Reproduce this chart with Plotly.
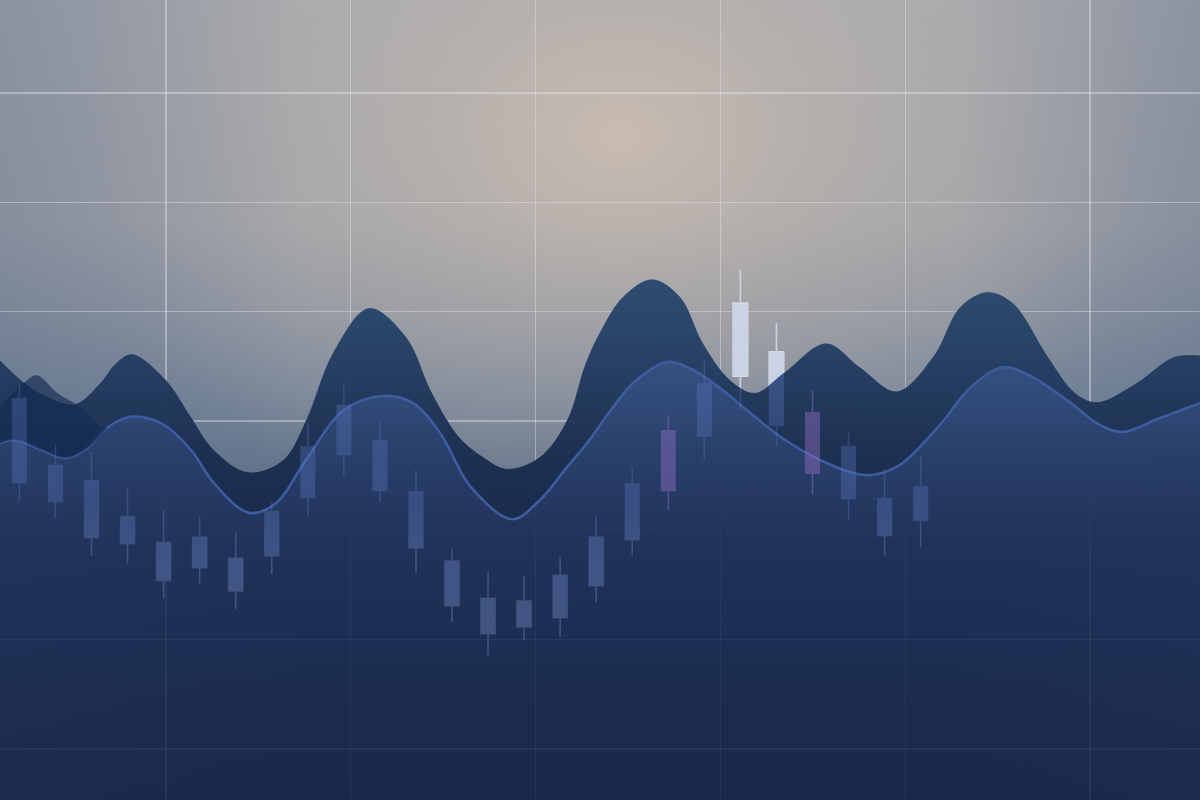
import base64
import plotly.graph_objects as go

# ---------------- data ----------------
# candlesticks (one per trading day)
day = list(range(26))
open_ = [50.25, 41.9, 40.0, 32.0, 32.25, 29.0, 30.25, 30.5, 37.75, 43.1, 45.0, 38.6, 29.9,
         25.25, 21.6, 22.75, 26.75, 32.5, 38.6, 45.4, 53.0, 56.0, 48.5, 44.25, 37.75, 34.9]
close = [39.6, 37.25, 32.75, 35.5, 27.4, 32.9, 26.1, 36.1, 44.25, 49.4, 38.6, 31.5, 24.25,
         20.75, 24.9, 28.1, 32.9, 39.6, 46.25, 52.1, 62.1, 46.75, 40.75, 37.6, 33.0, 39.25]
high = [51.9, 44.4, 43.5, 39.0, 36.25, 35.4, 33.4, 37.25, 47.25, 52.1, 47.25, 41.25, 31.4,
        28.5, 28.0, 30.4, 35.5, 41.6, 48.1, 55.0, 66.25, 59.6, 51.25, 45.9, 41.4, 43.0]
low = [37.25, 35.25, 30.5, 29.6, 25.25, 27.1, 23.9, 28.25, 35.6, 40.5, 37.25, 28.4, 22.25,
       18.1, 20.0, 20.4, 24.75, 30.6, 36.25, 42.4, 48.9, 44.25, 38.25, 35.1, 30.5, 31.6]
accent_days = [18, 22]

# upper (dark) wave
w1_x = [-0.538, 0.155, 0.849, 1.542, 2.236, 2.652, 3.123, 4.067, 4.760, 5.398, 6.341, 7.312,
        7.950, 8.699, 9.698, 10.724, 11.445, 12.194, 12.860, 13.526, 14.441, 15.190, 15.689,
        16.106, 16.744, 17.548, 18.325, 18.963, 19.712, 20.405, 21.210, 22.375, 23.318,
        24.344, 25.343, 26.092, 26.841, 27.562, 28.533, 29.282, 29.892, 30.974, 32.028, 32.749]
w1_y = [55.0, 52.1, 50.25, 49.5, 52.1, 54.5, 55.75, 52.5, 47.9, 43.75, 41.0, 42.5,
        47.5, 55.9, 61.5, 57.9, 50.9, 45.4, 42.9, 41.4, 42.9, 47.5, 54.4,
        58.5, 62.9, 65.1, 62.9, 57.1, 52.5, 50.9, 53.4, 57.1, 54.1,
        51.1, 55.4, 61.6, 63.5, 62.1, 55.4, 50.9, 49.75, 52.1, 55.4, 55.6]

# lower (blue line) wave
w2_x = [-0.538, -0.122, 0.627, 1.265, 1.820, 2.430, 3.068, 3.928, 4.760, 5.398, 6.369, 7.118,
        7.950, 9.004, 10.086, 10.918, 11.667, 12.527, 13.664, 14.441, 15.190, 15.745, 16.467,
        17.021, 17.964, 18.685, 19.434, 20.266, 21.237, 22.208, 23.040, 23.595, 24.427,
        25.537, 26.369, 27.284, 28.089, 29.171, 29.892, 30.585, 31.640, 32.749]
w2_y = [44.6, 45.0, 43.75, 42.75, 43.75, 46.5, 47.9, 47.1, 43.75, 39.6, 35.9, 37.1,
        42.5, 48.75, 50.5, 49.6, 45.9, 39.1, 35.1, 37.5, 41.6, 44.6, 49.1,
        52.1, 54.75, 53.75, 51.5, 48.4, 45.0, 42.5, 41.0, 40.6, 41.9,
        46.9, 51.5, 54.1, 52.9, 49.6, 47.1, 46.0, 47.75, 49.6]

# small back wave on the far left
w0_x = [-0.538, 0.155, 0.488, 1.043, 1.681, 2.236]
w0_y = [49.1, 52.25, 53.1, 50.9, 49.1, 46.6]
W0_JOIN = 6  # number of lower-wave points that close the back wave

# axis extents
x_range = [-0.538, 32.749]
y_range = [0, 100]
grid_x0, grid_dx = 4.067, 5.126
grid_y0, grid_dy = 6.375, 13.667

# ---------------- background ----------------
svg = """<svg xmlns='http://www.w3.org/2000/svg' width='1200' height='800' viewBox='0 0 1200 800' preserveAspectRatio='none'>
<defs>
<linearGradient id='v' x1='0' y1='0' x2='0' y2='1'>
<stop offset='0' stop-color='#a7a9ae'/>
<stop offset='0.28' stop-color='#a0a3a9'/>
<stop offset='0.40' stop-color='#8c94a1'/>
<stop offset='0.5' stop-color='#778598'/>
<stop offset='0.59' stop-color='#64748b'/>
<stop offset='0.66' stop-color='#2e3f62'/>
<stop offset='0.75' stop-color='#1c2d54'/>
<stop offset='1' stop-color='#152447'/>
</linearGradient>
<radialGradient id='g' cx='620' cy='135' r='560' gradientUnits='userSpaceOnUse'
 gradientTransform='translate(620 135) scale(1 0.72) translate(-620 -135)'>
<stop offset='0' stop-color='#cbbdb1' stop-opacity='0.95'/>
<stop offset='0.45' stop-color='#bfb5ad' stop-opacity='0.45'/>
<stop offset='1' stop-color='#b0aaa8' stop-opacity='0'/>
</radialGradient>
<linearGradient id='h' x1='0' y1='0' x2='1' y2='0'>
<stop offset='0' stop-color='#4a5f80' stop-opacity='0.30'/>
<stop offset='0.25' stop-color='#4a5f80' stop-opacity='0'/>
<stop offset='0.8' stop-color='#4a5f80' stop-opacity='0'/>
<stop offset='1' stop-color='#4a5f80' stop-opacity='0.28'/>
</linearGradient>
</defs>
<rect width='1200' height='800' fill='url(#v)'/>
<rect width='1200' height='800' fill='url(#g)'/>
<rect width='1200' height='800' fill='url(#h)'/>
</svg>"""
bg_uri = "data:image/svg+xml;base64," + base64.b64encode(svg.encode()).decode()


def segments(idx, a, b):
    xs, ys = [], []
    for i in idx:
        xs += [day[i], day[i], None]
        ys += [a[i], b[i], None]
    return xs, ys


def add_candle_overlay(fig, idx, color):
    body_lo = [min(o, c) for o, c in zip(open_, close)]
    body_hi = [max(o, c) for o, c in zip(open_, close)]
    bx, by = segments(idx, body_lo, body_hi)
    fig.add_trace(go.Scatter(x=bx, y=by, mode="lines", line=dict(color=color, width=15),
                             hoverinfo="skip", showlegend=False))
    lx, ly = segments(idx, low, body_lo)
    hx, hy = segments(idx, body_hi, high)
    fig.add_trace(go.Scatter(x=lx + hx, y=ly + hy, mode="lines",
                             line=dict(color=color, width=1.5),
                             hoverinfo="skip", showlegend=False))


# ---------------- figure ----------------
fig = go.Figure()

LIGHT = "rgb(242,240,238)"
fig.add_trace(go.Candlestick(
    x=day, open=open_, high=high, low=low, close=close,
    increasing=dict(fillcolor=LIGHT, line=dict(color=LIGHT, width=1.5)),
    decreasing=dict(fillcolor=LIGHT, line=dict(color=LIGHT, width=1.5)),
    hoverinfo="skip", showlegend=False))

fig.add_trace(go.Scatter(
    x=w1_x, y=w1_y, mode="lines", line=dict(shape="spline", smoothing=1.0, width=0.8,
                                             color="rgba(160,175,195,0.35)"),
    fill="tozeroy",
    fillgradient=dict(type="vertical", start=0, stop=66, colorscale=[
        [0.0, "rgba(20,33,64,0.84)"],
        [0.45, "rgba(22,37,70,0.87)"],
        [0.56, "rgba(25,42,76,0.96)"],
        [0.66, "rgba(27,46,80,0.97)"],
        [0.78, "rgba(32,56,92,0.96)"],
        [0.9, "rgba(36,66,102,0.95)"],
        [1.0, "rgba(40,72,110,0.95)"]]),
    hoverinfo="skip", showlegend=False))

fig.add_trace(go.Scatter(
    x=w2_x, y=w2_y, mode="lines", line=dict(shape="spline", smoothing=1.0, width=2.6,
                                             color="rgb(62,92,160)"),
    fill="tozeroy",
    fillgradient=dict(type="vertical", start=0, stop=55, colorscale=[
        [0.0, "rgba(70,100,160,0.10)"],
        [0.6, "rgba(70,100,165,0.17)"],
        [0.85, "rgba(74,106,172,0.30)"],
        [1.0, "rgba(78,110,178,0.38)"]]),
    hoverinfo="skip", showlegend=False))

# back wave on the left: closed against the lower wave
fig.add_trace(go.Scatter(
    x=w2_x[:W0_JOIN], y=w2_y[:W0_JOIN], mode="lines",
    line=dict(shape="spline", smoothing=1.0, width=0, color="rgba(0,0,0,0)"),
    hoverinfo="skip", showlegend=False))
fig.add_trace(go.Scatter(
    x=w0_x, y=w0_y, mode="lines",
    line=dict(shape="spline", smoothing=1.0, width=0, color="rgba(0,0,0,0)"),
    fill="tonexty", fillcolor="rgba(20,42,80,0.66)",
    hoverinfo="skip", showlegend=False))

plain = [i for i in day if i not in accent_days]
add_candle_overlay(fig, plain, "rgba(95,130,210,0.27)")
add_candle_overlay(fig, accent_days, "rgba(160,115,210,0.38)")

GRID = "rgba(235,235,240,0.40)"
fig.update_layout(
    width=1200, height=800, margin=dict(l=0, r=0, t=0, b=0),
    paper_bgcolor="#1a2a4c", plot_bgcolor="rgba(0,0,0,0)",
    boxgap=0.6, boxgroupgap=0, showlegend=False,
    images=[dict(source=bg_uri, xref="paper", yref="paper", x=0, y=1, sizex=1, sizey=1,
                 xanchor="left", yanchor="top", sizing="stretch", layer="below")],
    xaxis=dict(range=x_range, showticklabels=False, zeroline=False, showline=False,
               showgrid=True, gridcolor=GRID, gridwidth=1.2,
               tick0=grid_x0, dtick=grid_dx, ticks="", fixedrange=True,
               rangeslider=dict(visible=False)),
    yaxis=dict(range=y_range, showticklabels=False, zeroline=False, showline=False,
               showgrid=True, gridcolor=GRID, gridwidth=1.2,
               tick0=grid_y0, dtick=grid_dy, ticks="", fixedrange=True),
)

fig.write_html("out.html", config={"displayModeBar": False, "staticPlot": True},
               post_script="document.body.style.margin='0';document.body.style.overflow='hidden';")
